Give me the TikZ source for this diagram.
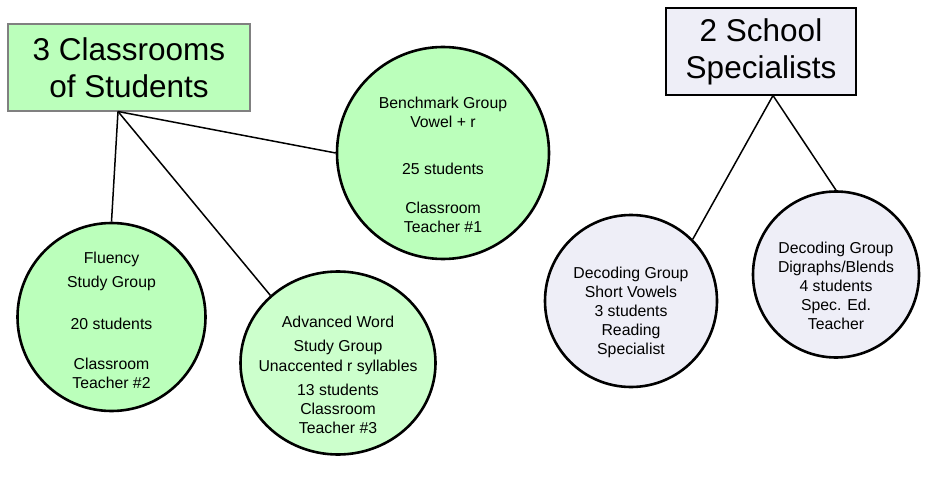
\documentclass[tikz,border=0pt]{standalone}
\usepackage{fontspec}
\setmainfont{Liberation Sans}
\usetikzlibrary{shapes.geometric,calc}
\definecolor{grpgreen}{HTML}{BBFFBB}
\definecolor{grplight}{HTML}{CCFFCC}
\definecolor{grplav}{HTML}{EEEEF7}
\definecolor{hdrgray}{HTML}{808080}
\tikzset{
  hdr/.style={draw,line width=2pt,align=center,inner sep=0pt,font=\fontsize{31.5}{37}\selectfont},
  grp/.style={circle,draw=black,line width=2.6pt,inner sep=0pt},
  gtxt/.style={align=center,inner sep=0pt,font=\fontsize{15.8}{19}\selectfont},
  link/.style={draw=black,line width=1.5pt},
}
\begin{document}
\begin{tikzpicture}[x=1pt,y=-1pt]
  \useasboundingbox (0,0) rectangle (931,481);
  % headers
  \node[hdr,draw=hdrgray,fill=grpgreen,minimum width=242,minimum height=87](cls) at (129,67.5){3 Classrooms\\of Students};
  \node[hdr,draw=black,fill=grplav,minimum width=190,minimum height=87](spc) at (761,51.5){2 School\\Specialists};
  % classroom groups
  \node[grp,fill=grpgreen,minimum size=212](bench) at (443,153){};
  \node[gtxt](bench-t) at (443,165){Benchmark Group\\Vowel + r\\[28pt]25 students\\[20pt]Classroom\\Teacher \#1};
  \node[grp,fill=grpgreen,minimum size=188](flu) at (111.5,317){};
  \node[gtxt](flu-t) at (111.5,320){Fluency\\[5pt]Study Group\\[23pt]20 students\\[21pt]Classroom\\Teacher \#2};
  \node[grp,ellipse,fill=grplight,minimum width=195,minimum height=183](adv) at (338,363){};
  \node[gtxt](adv-t) at (338,375){Advanced Word\\[5pt]Study Group\\[1pt]Unaccented r syllables\\[5pt]13 students\\Classroom\\Teacher \#3};
  % specialist groups
  \node[grp,fill=grplav,minimum size=172](short) at (631,301){};
  \node[gtxt](short-t) at (631,312.5){Decoding Group\\Short Vowels\\3 students\\Reading\\Specialist};
  \node[grp,fill=grplav,minimum size=166](dig) at (836,274.5){};
  \node[gtxt](dig-t) at (836,286){Decoding Group\\Digraphs/Blends\\4 students\\Spec. Ed.\\Teacher};
  % links
  \coordinate (c1) at (118,111.5);
  \coordinate (c2) at (773,95.5);
  \draw[link] (c1) -- (flu.north);
  \draw[link] (c1) -- (adv.135);
  \draw[link] (c1) -- (bench.west);
  \draw[link] (c2) -- (short.45);
  \draw[link] (c2) -- (dig.north);
\end{tikzpicture}
\end{document}
